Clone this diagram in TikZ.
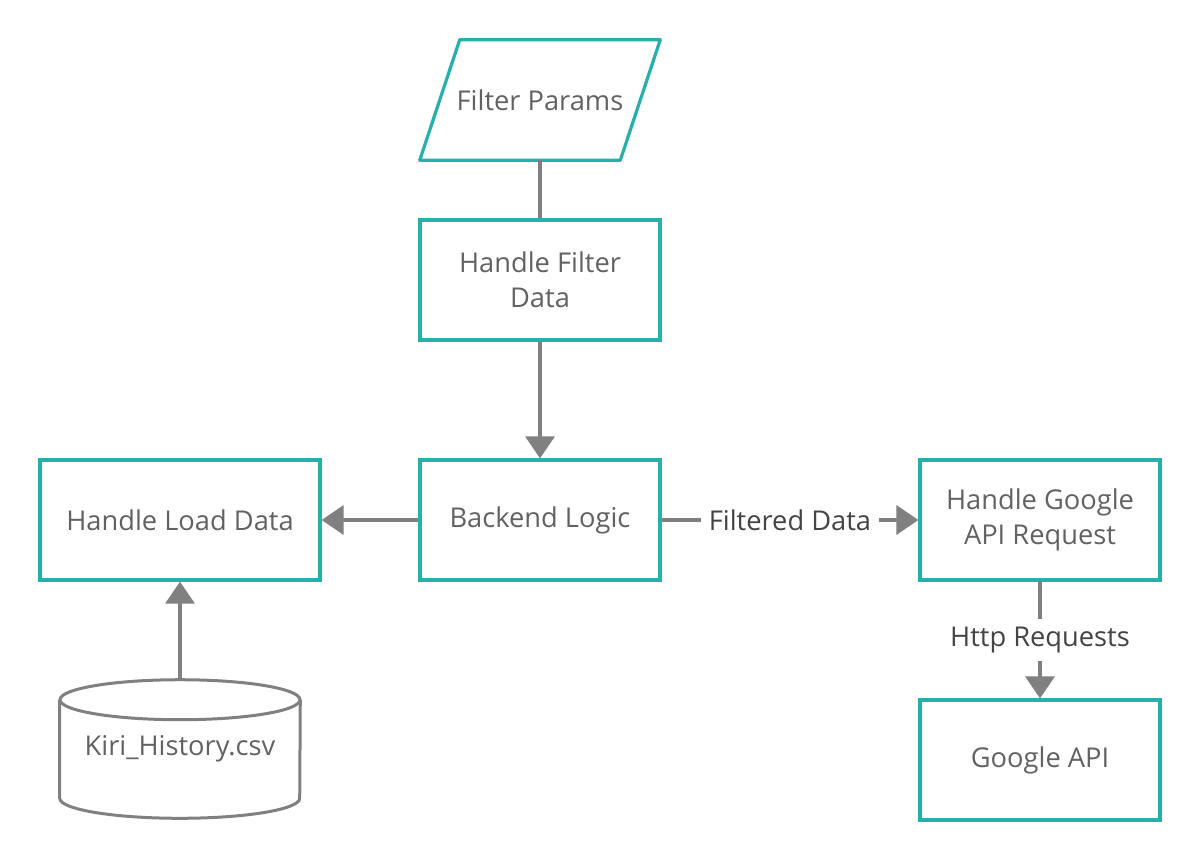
\documentclass[tikz,border=0pt]{standalone}
\usepackage{fontspec}
\setmainfont{Open Sans}
\usetikzlibrary{arrows.meta}

\definecolor{boxteal}{RGB}{38,176,171}
\definecolor{flowgray}{RGB}{128,128,128}
\definecolor{nodetext}{RGB}{98,98,98}
\definecolor{labeltext}{RGB}{68,68,68}

\tikzset{
  boxtext/.style={text=nodetext, align=center, font=\fontsize{19.4pt}{25pt}\selectfont},
  procbox/.style={boxtext, draw=boxteal, fill=white, line width=0.08cm, minimum width=6cm, minimum height=3cm},
  tealline/.style={draw=boxteal, line width=0.08cm, line join=round},
  flow/.style={draw=flowgray, line width=0.1cm, -{Triangle[length=0.55cm,width=0.72cm]}},
  plainflow/.style={draw=flowgray, line width=0.1cm},
  flowlabel/.style={fill=white, text=labeltext, inner sep=0.2cm, font=\fontsize{19.4pt}{25pt}\selectfont}
}

\begin{document}
\begin{tikzpicture}
  \useasboundingbox (0cm,0cm) rectangle (30cm,-21.5cm);
  \node[boxtext, minimum width=6cm, minimum height=3cm] (params) at (13.5cm,-2.5cm) {Filter Params};
  \node[procbox] (filter) at (13.5cm,-7cm) {Handle Filter\\Data};
  \node[procbox] (backend) at (13.5cm,-13cm) {Backend Logic};
  \node[procbox, minimum width=7cm] (load) at (4.5cm,-13cm) {Handle Load Data};
  \node[procbox] (apireq) at (26cm,-13cm) {Handle Google\\API Request};
  \node[procbox] (googleapi) at (26cm,-19cm) {Google API};
  \node[boxtext, minimum width=6cm, minimum height=3.45cm] (csv) at (4.5cm,-18.725cm) {Kiri\_History.csv};

  % input as a parallelogram
  \draw[tealline] ([xshift=1cm]params.north west) -- (params.north east)
    -- ([xshift=-1cm]params.south east) -- (params.south west) -- cycle;
  % the csv file as a cylinder
  \draw[plainflow, line width=0.075cm] ([yshift=-0.5cm]csv.north) ellipse (3cm and 0.5cm);
  \draw[plainflow, line width=0.075cm] ([yshift=-0.5cm]csv.north west) -- ([yshift=0.5cm]csv.south west)
    arc (180:360:3cm and 0.5cm) -- ([yshift=-0.5cm]csv.north east);

  \draw[plainflow] (params.south) -- (filter.north);
  \draw[flow] (filter) -- (backend);
  \draw[flow] (backend) -- (load);
  \draw[flow] (csv.north) -- (load.south);
  \draw[flow] (backend) -- node[flowlabel] {Filtered Data} (apireq);
  \draw[flow] (apireq) -- node[flowlabel] {Http Requests} (googleapi);
\end{tikzpicture}
\end{document}
